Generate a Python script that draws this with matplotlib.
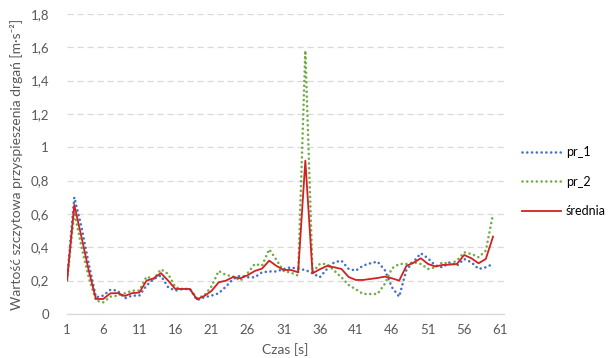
import matplotlib.pyplot as plt
import numpy as np


plt.rcParams['font.family'] = ['Lato', 'DejaVu Sans']

tick_fontsize = 9.5
label_fontsize = 10
legend_fontsize = 9
text_color = "#595959"

# czas [s], pomiary co 1 s
czas = np.arange(1, 61)

pr_1 = [
	0.21, 0.70, 0.52, 0.30, 0.10, 0.11, 0.145, 0.14, 0.094, 0.11,
	0.11, 0.17, 0.21, 0.23, 0.16, 0.14, 0.15, 0.15, 0.083, 0.10,
	0.11, 0.124, 0.164, 0.21, 0.23, 0.22, 0.22, 0.25, 0.255, 0.255,
	0.27, 0.28, 0.27, 0.264, 0.244, 0.22, 0.27, 0.31, 0.32, 0.27,
	0.26, 0.29, 0.304, 0.314, 0.264, 0.16, 0.104, 0.264, 0.314, 0.364,
	0.334, 0.29, 0.28, 0.31, 0.29, 0.33, 0.31, 0.27, 0.28, 0.30,
]

pr_2 = [
	0.20, 0.61, 0.40, 0.22, 0.08, 0.07, 0.104, 0.11, 0.124, 0.14,
	0.14, 0.224, 0.21, 0.268, 0.24, 0.16, 0.15, 0.15, 0.095, 0.11,
	0.165, 0.258, 0.234, 0.225, 0.20, 0.245, 0.30, 0.29, 0.388, 0.324,
	0.258, 0.248, 0.23, 1.58, 0.25, 0.30, 0.30, 0.26, 0.22, 0.174,
	0.148, 0.12, 0.12, 0.12, 0.18, 0.274, 0.30, 0.30, 0.31, 0.30,
	0.27, 0.28, 0.31, 0.30, 0.32, 0.37, 0.36, 0.34, 0.38, 0.60,
]

srednia = [
	0.205, 0.655, 0.46, 0.26, 0.09, 0.09, 0.124, 0.125, 0.108, 0.125,
	0.128, 0.20, 0.214, 0.245, 0.20, 0.15, 0.15, 0.15, 0.088, 0.108,
	0.138, 0.19, 0.20, 0.222, 0.214, 0.232, 0.258, 0.272, 0.32, 0.288,
	0.264, 0.264, 0.25, 0.92, 0.244, 0.268, 0.288, 0.28, 0.27, 0.222,
	0.204, 0.204, 0.21, 0.216, 0.224, 0.214, 0.20, 0.288, 0.308, 0.334,
	0.30, 0.285, 0.294, 0.296, 0.30, 0.354, 0.334, 0.304, 0.33, 0.464,
]

x_tick_list = list(range(1, 62, 5))
y_tick_list = [0, 0.2, 0.4, 0.6, 0.8, 1.0, 1.2, 1.4, 1.6, 1.8]
y_tick_label_list = ["0", "0,2", "0,4", "0,6", "0,8", "1", "1,2", "1,4", "1,6", "1,8"]

# round dots, Excel-like
dot_style = (0, (0.01, 1.8))


fig = plt.figure(figsize=(6.1, 3.58), dpi=100)
ax = fig.add_axes([0.110, 0.123, 0.716, 0.838])

ax.plot(
	czas, pr_1,
	color="#4472C4", linewidth=1.9,
	linestyle=dot_style, dash_capstyle="round",
	label="pr_1",
)
ax.plot(
	czas, pr_2,
	color="#70AD47", linewidth=1.9,
	linestyle=dot_style, dash_capstyle="round",
	label="pr_2",
)
ax.plot(
	czas, srednia,
	color="#D42020", linewidth=1.3,
	label="średnia",
)

ax.set_xlim(1, 61.5)
ax.set_ylim(0, 1.8)

ax.set_yticks(y_tick_list)
ax.set_yticklabels(y_tick_label_list, fontsize=tick_fontsize, color=text_color)
ax.set_xticks(x_tick_list)
ax.set_xticklabels([str(t) for t in x_tick_list], fontsize=tick_fontsize, color=text_color)
ax.tick_params(axis="both", length=0)
ax.tick_params(axis="y", pad=13)
ax.tick_params(axis="x", pad=7)

ax.grid(axis="y", color="#d9d9d9", linestyle=(0, (5, 3)), linewidth=0.9)
ax.set_axisbelow(True)
for side in ["top", "right", "left"]:
	ax.spines[side].set_visible(False)
ax.spines["bottom"].set_color("#d9d9d9")
ax.spines["bottom"].set_linewidth(0.9)

ax.set_xlabel("Czas [s]", fontsize=label_fontsize, color=text_color, labelpad=5)
ax.set_ylabel(
	"Wartość szczytowa przyspieszenia drgań [m·s⁻²]",
	fontsize=label_fontsize, color=text_color, labelpad=5,
)

fig.legend(
	loc="center left", bbox_to_anchor=(0.856, 0.492),
	frameon=False, fontsize=legend_fontsize,
	handlelength=3.1, labelspacing=1.4, handletextpad=0.4,
	borderpad=0, borderaxespad=0,
	labelcolor="black",
)

plt.savefig("out.png", dpi=100)
plt.close()
